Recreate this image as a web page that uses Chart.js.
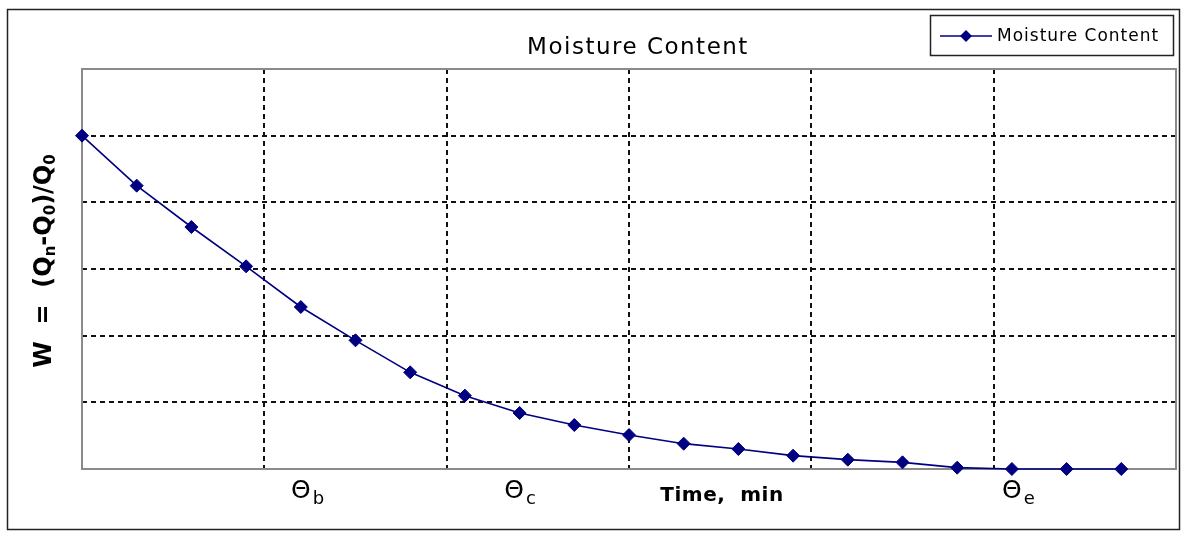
<!DOCTYPE html>
<html>
<head>
<meta charset="utf-8">
<script src="https://cdn.jsdelivr.net/npm/chart.js@4.4.0/dist/chart.umd.min.js"></script>
<style>
  html, body { margin: 0; padding: 0; background: #fff; }
  #wrap { width: 1186px; height: 535px; }
</style>
</head>
<body>
<div id="wrap"><canvas id="moistureChart" width="1186" height="535"></canvas></div>
<script>
// drying curve, one reading every 3 minutes
const timeMin = [0, 3, 6, 9, 12, 15, 18, 21, 24, 27, 30, 33, 36, 39, 42, 45, 48, 51, 54, 57];
const moisture = [5.00, 4.25, 3.63, 3.04, 2.43, 1.93, 1.45, 1.10, 0.84, 0.66, 0.51, 0.38, 0.30, 0.20, 0.14, 0.10, 0.02, 0, 0, 0];
const seriesLabel = 'Moisture Content';
const chartTitle = 'Moisture Content';
const xAxisTitle = 'Time,  min';
// theta labels under the x axis (subscript, position in minutes)
const thetaSubs = ['b', 'c', 'e'];
const thetaAt = [12, 23.7, 51];

const NAVY = '#000080';

// draw a run of [text, isSubscript] pieces starting at x
function drawPieces(c, pieces, x, y, font, subFont) {
    pieces.forEach(p => {
        c.font = p[1] ? subFont : font;
        const dy = p[1] ? 6 : 0;
        c.fillText(p[0], x, y + dy);
        x += c.measureText(p[0]).width;
    });
}

function piecesWidth(c, pieces, font, subFont) {
    let w = 0;
    pieces.forEach(p => {
        c.font = p[1] ? subFont : font;
        w += c.measureText(p[0]).width;
    });
    return w;
}

const framePlugin = {
    id: 'frame',
    beforeDraw(chart) {
        const c = chart.ctx;
        c.save();
        c.fillStyle = '#fff';
        c.fillRect(0, 0, chart.width, chart.height);
        c.strokeStyle = '#222';
        c.lineWidth = 1.5;
        c.strokeRect(7.5, 9.5, chart.width - 14, chart.height - 15);
        c.restore();
    },
    beforeDatasetsDraw(chart) {
        const a = chart.chartArea;
        const c = chart.ctx;
        c.save();
        c.strokeStyle = '#8a8a8a';
        c.lineWidth = 2;
        c.strokeRect(a.left, a.top, a.right - a.left, a.bottom - a.top);
        c.restore();
    },
    afterDraw(chart) {
        const c = chart.ctx;
        const a = chart.chartArea;
        const xs = chart.scales.x;
        c.save();
        c.fillStyle = '#000';
        c.textBaseline = 'middle';

        // title
        c.font = '23px "DejaVu Sans"';
        c.letterSpacing = '1.5px';
        c.textAlign = 'center';
        c.fillText(chartTitle, (a.left + a.right) / 2 + 9, 48);
        c.letterSpacing = '0px';

        // x axis title
        c.font = 'bold 20px "DejaVu Sans"';
        c.letterSpacing = '0.5px';
        c.fillText(xAxisTitle, xs.getPixelForValue(35.1), 496);
        c.letterSpacing = '0px';

        // theta labels
        c.textAlign = 'left';
        thetaSubs.forEach((s, i) => {
            const cx = xs.getPixelForValue(thetaAt[i]);
            c.font = '25px "DejaVu Sans"';
            const tw = c.measureText('\u0398').width;
            c.fillText('\u0398', cx - tw / 2, 491);
            c.font = '18px "DejaVu Sans"';
            c.fillText(s, cx + tw / 2 + 2, 499);
        });

        // y axis title, rotated
        const yPieces = [['W  =  (Q', false], ['n', true], ['-Q', false], ['0', true], [')/Q', false], ['0', true]];
        const f = 'bold 24px "DejaVu Sans"';
        const sf = 'bold 15px "DejaVu Sans"';
        const w = piecesWidth(c, yPieces, f, sf);
        c.translate(45, (a.top + a.bottom) / 2 - 8);
        c.rotate(-Math.PI / 2);
        drawPieces(c, yPieces, -w / 2, 0, f, sf);
        c.restore();

        // legend
        c.save();
        c.strokeStyle = '#222';
        c.lineWidth = 1.5;
        c.strokeRect(930.5, 15.5, 243, 40);
        c.strokeStyle = NAVY;
        c.lineWidth = 1.5;
        c.beginPath();
        c.moveTo(940, 36);
        c.lineTo(992, 36);
        c.stroke();
        c.fillStyle = NAVY;
        c.beginPath();
        c.moveTo(966, 30);
        c.lineTo(972, 36);
        c.lineTo(966, 42);
        c.lineTo(960, 36);
        c.closePath();
        c.fill();
        c.fillStyle = '#000';
        c.font = '17px "DejaVu Sans"';
        c.letterSpacing = '1px';
        c.textBaseline = 'middle';
        c.fillText(seriesLabel, 997, 37);
        c.restore();
    }
};

function gridColor(lastValue) {
    return ctx => (ctx.tick.value === 0 || ctx.tick.value === lastValue) ? 'rgba(0,0,0,0)' : '#111';
}

const ctx = document.getElementById('moistureChart');
new Chart(ctx, {
    type: 'line',
    data: {
        datasets: [{
            label: seriesLabel,
            data: timeMin.map((t, i) => ({ x: t, y: moisture[i] })),
            borderColor: NAVY,
            backgroundColor: NAVY,
            borderWidth: 1.6,
            pointStyle: 'rectRot',
            pointRadius: 6.5,
            pointHoverRadius: 6.5,
            pointBorderWidth: 1,
            tension: 0,
            clip: false
        }]
    },
    options: {
        responsive: false,
        animation: false,
        devicePixelRatio: 1,
        layout: { padding: { left: 82, top: 69, right: 10, bottom: 66 } },
        plugins: {
            legend: { display: false },
            title: { display: false },
            tooltip: { enabled: false }
        },
        scales: {
            x: {
                type: 'linear',
                min: 0,
                max: 60,
                ticks: { display: false, stepSize: 10 },
                grid: { color: gridColor(60), lineWidth: 2, drawTicks: false },
                border: { display: false, dash: [5, 4] }
            },
            y: {
                min: 0,
                max: 6,
                ticks: { display: false, stepSize: 1 },
                grid: { color: gridColor(6), lineWidth: 2, drawTicks: false },
                border: { display: false, dash: [5, 4] }
            }
        }
    },
    plugins: [framePlugin]
});
</script>
</body>
</html>
